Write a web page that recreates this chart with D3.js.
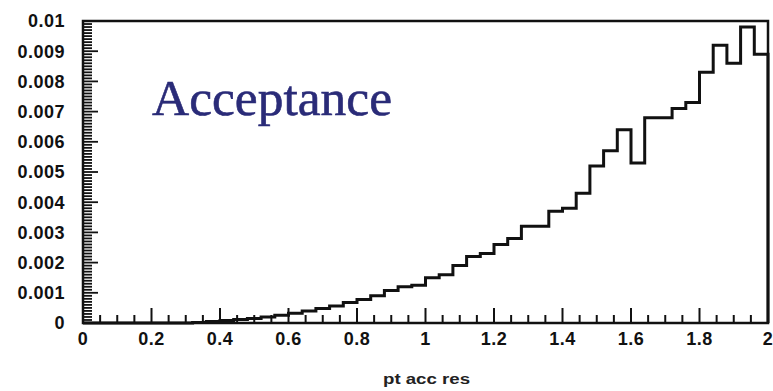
<!DOCTYPE html>
<html>
<head>
<meta charset="utf-8">
<script src="https://cdn.jsdelivr.net/npm/d3@7"></script>
<style>
  body { margin: 0; background: #fff; }
  svg { display: block; }
</style>
</head>
<body>
<div id="d3-container"></div>
<script>
/**
 * CONSTANTS AND GLOBALS
 * */
const width = 773,
  height = 391,
  margin = { top: 21, bottom: 68, left: 83, right: 5 };

// histogram: 50 bins of width 0.04 between 0 and 2
const binEdges = d3.range(0, 51).map(i => +(i * 0.04).toFixed(2));
const binValues = [
  0, 0, 0, 0, 0, 0, 0, 0, 0.00002, 0.00005,
  0.00008, 0.00012, 0.00015, 0.0002, 0.00026, 0.00032, 0.0004, 0.00048, 0.00056, 0.00068,
  0.00078, 0.0009, 0.00108, 0.0012, 0.00125, 0.0015, 0.0016, 0.0019, 0.0022, 0.0023,
  0.0026, 0.0028, 0.0032, 0.0032, 0.0037, 0.0038, 0.0043, 0.0052, 0.0057, 0.0064,
  0.0053, 0.0068, 0.0068, 0.0071, 0.0073, 0.0083, 0.0092, 0.0086, 0.0098, 0.0089
];

const xTickLabels = ["0", "0.2", "0.4", "0.6", "0.8", "1", "1.2", "1.4", "1.6", "1.8", "2"];
const yTickLabels = ["0", "0.001", "0.002", "0.003", "0.004", "0.005", "0.006", "0.007", "0.008", "0.009", "0.01"];

const xTitle = "pt acc res";
const plotLabel = "Acceptance";

/**
 * SCALES
 * */
const x = d3.scaleLinear().domain([0, 2]).range([margin.left, width - margin.right]);
const y = d3.scaleLinear().domain([0, 0.01]).range([height - margin.bottom, margin.top]);

const svg = d3.select("#d3-container")
  .append("svg")
  .attr("width", width)
  .attr("height", height);

svg.append("rect")
  .attr("width", width)
  .attr("height", height)
  .attr("fill", "#fff");

// minor / major ticks, pointing inward like the original
const xMinor = d3.range(0, 41).map(i => i * 0.05);
const yMinor = d3.range(0, 101).map(i => i * 0.0001);

svg.append("g")
  .selectAll("line")
  .data(xMinor)
  .join("line")
  .attr("x1", d => x(d))
  .attr("x2", d => x(d))
  .attr("y1", y(0))
  .attr("y2", (d, i) => y(0) - (i % 4 === 0 ? 15 : 8))
  .attr("stroke", "#111")
  .attr("stroke-width", 2);

svg.append("g")
  .selectAll("line")
  .data(yMinor)
  .join("line")
  .attr("y1", d => y(d))
  .attr("y2", d => y(d))
  .attr("x1", x(0))
  .attr("x2", (d, i) => x(0) + (i % 10 === 0 ? 15 : 9))
  .attr("stroke", "#111")
  .attr("stroke-width", 1.8);

// frame
svg.append("rect")
  .attr("x", x(0))
  .attr("y", y(0.01))
  .attr("width", x(2) - x(0))
  .attr("height", y(0) - y(0.01))
  .attr("fill", "none")
  .attr("stroke", "#111")
  .attr("stroke-width", 2.5);

// tick labels (a touch wider than the font, like the scanned original)
const labelFont = "Liberation Sans, Arial, sans-serif";

svg.append("g")
  .selectAll("text")
  .data(xTickLabels)
  .join("text")
  .attr("x", d => x(+d))
  .attr("y", 345)
  .attr("text-anchor", "middle")
  .attr("font-family", labelFont)
  .attr("font-weight", "bold")
  .attr("font-size", 18)
  .attr("letter-spacing", 0.5)
  .attr("fill", "#111")
  .text(d => d);

svg.append("g")
  .selectAll("text")
  .data(yTickLabels)
  .join("text")
  .attr("x", 65)
  .attr("y", d => y(+d))
  .attr("dy", "0.36em")
  .attr("text-anchor", "end")
  .attr("font-family", labelFont)
  .attr("font-weight", "bold")
  .attr("font-size", 18)
  .attr("letter-spacing", 0.5)
  .attr("fill", "#111")
  .text(d => d);

// axis title
svg.append("text")
  .attr("x", 383)
  .attr("y", 384)
  .attr("font-family", labelFont)
  .attr("font-weight", "bold")
  .attr("font-size", 14)
  .attr("textLength", 87)
  .attr("lengthAdjust", "spacingAndGlyphs")
  .attr("fill", "#222")
  .text(xTitle);

// histogram outline (step path)
const steps = [[binEdges[0], 0]];
binValues.forEach((v, i) => {
  steps.push([binEdges[i], v]);
  steps.push([binEdges[i + 1], v]);
});
steps.push([binEdges[binEdges.length - 1], 0]);

const line = d3.line()
  .x(d => x(d[0]))
  .y(d => y(d[1]));

svg.append("path")
  .attr("d", line(steps))
  .attr("fill", "none")
  .attr("stroke", "#111")
  .attr("stroke-width", 3)
  .attr("stroke-linejoin", "miter");

// big label inside the plot
svg.append("text")
  .attr("x", 152)
  .attr("y", 115)
  .attr("font-family", "Liberation Serif, Times New Roman, serif")
  .attr("font-size", 51)
  .attr("textLength", 240)
  .attr("lengthAdjust", "spacingAndGlyphs")
  .attr("fill", "#2a2b78")
  .attr("stroke", "#2a2b78")
  .attr("stroke-width", 0.6)
  .text(plotLabel);
</script>
</body>
</html>
